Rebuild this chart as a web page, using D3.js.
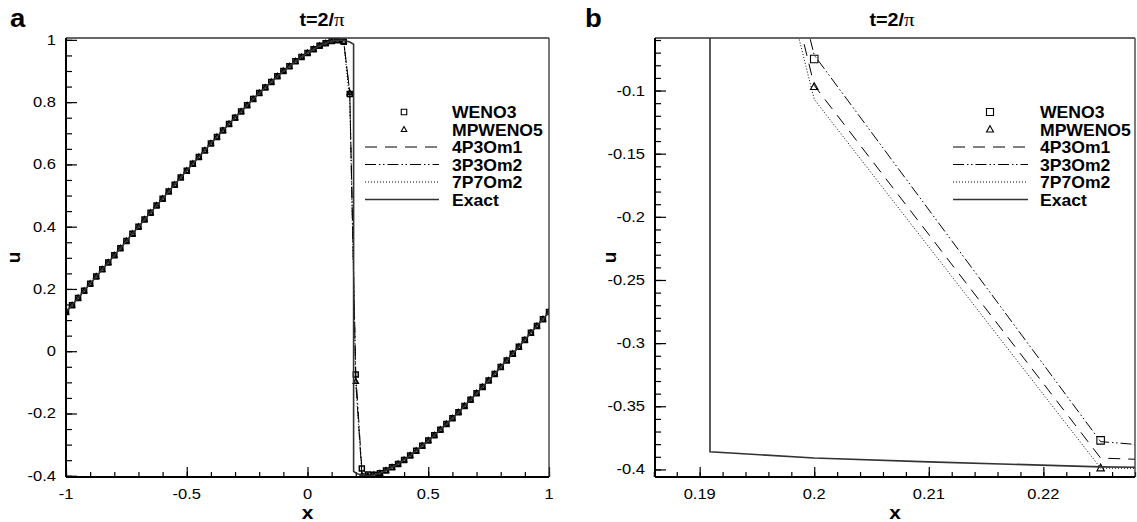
<!DOCTYPE html>
<html>
<head>
<meta charset="utf-8">
<script src="https://cdn.jsdelivr.net/npm/d3@7"></script>
<style>
body { margin: 0; background: #fff; }
text { font-family: "Liberation Sans", Arial, sans-serif; fill: #000; }
</style>
</head>
<body>
<svg id="chart" width="1137" height="522"></svg>
<script>
// grid nodes, dx = 0.025
var xGrid = [-1, -0.975, -0.95, -0.925, -0.9, -0.875, -0.85, -0.825, -0.8, -0.775,
  -0.75, -0.725, -0.7, -0.675, -0.65, -0.625, -0.6, -0.575, -0.55, -0.525,
  -0.5, -0.475, -0.45, -0.425, -0.4, -0.375, -0.35, -0.325, -0.3, -0.275,
  -0.25, -0.225, -0.2, -0.175, -0.15, -0.125, -0.1, -0.075, -0.05, -0.025,
  0, 0.025, 0.05, 0.075, 0.1, 0.125, 0.15, 0.175, 0.2, 0.225,
  0.25, 0.275, 0.3, 0.325, 0.35, 0.375, 0.4, 0.425, 0.45, 0.475,
  0.5, 0.525, 0.55, 0.575, 0.6, 0.625, 0.65, 0.675, 0.7, 0.725,
  0.75, 0.775, 0.8, 0.825, 0.85, 0.875, 0.9, 0.925, 0.95, 0.975, 1];

// u on the grid away from the shock (all schemes sit on the exact curve there)
var smoothU = [0.126, 0.148, 0.171, 0.194, 0.217, 0.240, 0.263, 0.285, 0.308, 0.331,
  0.354, 0.377, 0.400, 0.423, 0.445, 0.468, 0.490, 0.513, 0.535, 0.558,
  0.580, 0.602, 0.624, 0.645, 0.667, 0.688, 0.709, 0.730, 0.750, 0.770,
  0.790, 0.810, 0.829, 0.847, 0.865, 0.883, 0.900, 0.915, 0.931, 0.945,
  0.958, 0.970, 0.981, 0.989, 0.996, 0.999, 0.999, 0.993, -0.391, -0.398,
  -0.400, -0.397, -0.392, -0.383, -0.373, -0.362, -0.349, -0.335, -0.320, -0.304,
  -0.287, -0.270, -0.252, -0.234, -0.215, -0.196, -0.176, -0.156, -0.135, -0.115,
  -0.094, -0.073, -0.051, -0.030, -0.008, 0.014, 0.036, 0.059, 0.081, 0.103, 0.126];

// values at x = 0.15, 0.175, 0.2, 0.225, 0.25 (around the shock)
var nearStart = 46;
var weno3Near   = [0.994, 0.826, -0.075, -0.377, -0.396];
var mpweno5Near = [0.995, 0.830, -0.097, -0.399, -0.400];
var p4o3m1Near  = [0.995, 0.830, -0.096, -0.391, -0.399];
var p3o3m2Near  = [0.995, 0.832, -0.072, -0.378, -0.396];
var p7o7m2Near  = [0.995, 0.800, -0.107, -0.399, -0.400];

// extra exact points: the jump at x = 0.191
var exactShockX = [0.1909, 0.1909, 0.21];
var exactShockU = [0.986, -0.386, -0.394];

var legendNames = ["WENO3", "MPWENO5", "4P3Om1", "3P3Om2", "7P7Om2", "Exact"];

var leftXTicks = [-1, -0.5, 0, 0.5, 1];
var leftYTicks = [-0.4, -0.2, 0, 0.2, 0.4, 0.6, 0.8, 1];
var rightXTicks = [0.19, 0.2, 0.21, 0.22];
var rightYTicks = [-0.4, -0.35, -0.3, -0.25, -0.2, -0.15, -0.1];

var stretch = 1.1; // text in the figure looks a little wide

function seriesFrom(near) {
  var u = smoothU.slice();
  near.forEach(function(v, k) { u[nearStart + k] = v; });
  return xGrid.map(function(x, i) { return [x, u[i]]; });
}

var exactPts = xGrid.map(function(x, i) { return [x, smoothU[i]]; })
  .concat(exactShockX.map(function(x, i) { return [x, exactShockU[i]]; }));
// sort by x, the jump goes top -> bottom
exactPts.sort(function(a, b) {
  if (a[0] !== b[0]) return a[0] - b[0];
  return b[1] - a[1];
});

var series = [
  {name: "WENO3", pts: seriesFrom(weno3Near), marker: "square"},
  {name: "MPWENO5", pts: seriesFrom(mpweno5Near), marker: "triangle"},
  {name: "4P3Om1", pts: seriesFrom(p4o3m1Near), dash: "12,8", width: 1},
  {name: "3P3Om2", pts: seriesFrom(p3o3m2Near), dash: "11,3,1.5,2.5,1.5,3", width: 1},
  {name: "7P7Om2", pts: seriesFrom(p7o7m2Near), dash: "1,2", width: 1},
  {name: "Exact", pts: exactPts, dash: null, width: 1.6, color: "#333"}
];

var svg = d3.select("#chart");

function fmt(d) { return String(+d.toFixed(3)); }

function addText(g, x, y, str, anchor, size, weight) {
  return g.append("text")
    .attr("transform", "translate(" + x + "," + y + ") scale(" + stretch + ",1)")
    .attr("text-anchor", anchor)
    .attr("font-size", size)
    .attr("font-weight", weight || "normal")
    .text(str);
}

function markerPath(type, s) {
  if (type === "square") {
    return "M" + (-s/2) + "," + (-s/2) + "h" + s + "v" + s + "h" + (-s) + "Z";
  }
  var h = s * 0.9;
  return "M0," + (-h*0.6) + "L" + (s/2) + "," + (h*0.4) + "L" + (-s/2) + "," + (h*0.4) + "Z";
}

function drawPanel(cfg) {
  var b = cfg.box;
  var x = d3.scaleLinear().domain(cfg.xDomain).range([b.x0, b.x1]);
  var y = d3.scaleLinear().domain(cfg.yDomain).range([b.y1, b.y0]);
  var g = svg.append("g");

  g.append("clipPath").attr("id", "clip-" + cfg.tag)
    .append("rect")
    .attr("x", b.x0).attr("y", b.y0)
    .attr("width", b.x1 - b.x0).attr("height", b.y1 - b.y0);

  // minor then major ticks, pointing inside
  var axes = [
    [d3.axisBottom(x).tickValues(cfg.xMinor).tickSize(-5), "translate(0," + b.y1 + ")"],
    [d3.axisBottom(x).tickValues(cfg.xTicks).tickSize(-10), "translate(0," + b.y1 + ")"],
    [d3.axisLeft(y).tickValues(cfg.yMinor).tickSize(-6), "translate(" + b.x0 + ",0)"],
    [d3.axisLeft(y).tickValues(cfg.yTicks).tickSize(-11), "translate(" + b.x0 + ",0)"]
  ];
  axes.forEach(function(a) {
    var ag = g.append("g").attr("transform", a[1])
      .call(a[0].tickFormat("").tickSizeOuter(0));
    ag.select(".domain").remove();
    ag.selectAll("line").attr("stroke", "#000").attr("stroke-width", 1.2);
  });

  // tick labels
  cfg.xTicks.forEach(function(t) {
    addText(g, x(t), b.y1 + 22, fmt(t), "middle", 15);
  });
  cfg.yTicks.forEach(function(t) {
    addText(g, b.x0 - 10, y(t) + 5, fmt(t), "end", 15);
  });

  var plot = g.append("g").attr("clip-path", "url(#clip-" + cfg.tag + ")");
  var line = d3.line().x(function(d) { return x(d[0]); }).y(function(d) { return y(d[1]); });

  series.forEach(function(s) {
    if (s.marker) {
      plot.selectAll(null).data(s.pts).enter().append("path")
        .attr("transform", function(d) { return "translate(" + x(d[0]) + "," + y(d[1]) + ")"; })
        .attr("d", markerPath(s.marker, cfg.markerSize))
        .attr("fill", "none").attr("stroke", "#000").attr("stroke-width", cfg.markerStroke);
    } else {
      plot.append("path").datum(s.pts)
        .attr("d", line)
        .attr("fill", "none")
        .attr("stroke", s.color || "#000")
        .attr("stroke-width", s.width)
        .attr("stroke-dasharray", s.dash);
    }
  });

  // frame
  g.append("line").attr("x1", b.x0).attr("x2", b.x1).attr("y1", b.y0).attr("y2", b.y0)
    .attr("stroke", "#333").attr("stroke-width", 1.3);
  g.append("line").attr("x1", b.x1).attr("x2", b.x1).attr("y1", b.y0).attr("y2", b.y1)
    .attr("stroke", "#333").attr("stroke-width", 1.3);
  g.append("line").attr("x1", b.x0).attr("x2", b.x1).attr("y1", b.y1).attr("y2", b.y1)
    .attr("stroke", "#000").attr("stroke-width", 2);
  g.append("line").attr("x1", b.x0).attr("x2", b.x0).attr("y1", b.y0).attr("y2", b.y1)
    .attr("stroke", "#000").attr("stroke-width", 2);

  // legend
  var lg = cfg.legend;
  legendNames.forEach(function(name, i) {
    var s = series[i];
    var ly = lg.y + i * 17.5;
    if (s.marker) {
      g.append("path")
        .attr("transform", "translate(" + lg.mx + "," + ly + ")")
        .attr("d", markerPath(s.marker, lg.ms))
        .attr("fill", "none").attr("stroke", "#000").attr("stroke-width", 1.1);
    } else {
      g.append("line")
        .attr("x1", lg.l0).attr("x2", lg.l1).attr("y1", ly).attr("y2", ly)
        .attr("stroke", s.color || "#000")
        .attr("stroke-width", s.width)
        .attr("stroke-dasharray", s.dash);
    }
    addText(g, lg.tx, ly + 6, name, "start", 16, "bold");
  });

  // title, axis names, panel letter
  var title = g.append("text")
    .attr("transform", "translate(" + cfg.titleX + ",26) scale(" + stretch + ",1)")
    .attr("text-anchor", "middle")
    .attr("font-size", 18).attr("font-weight", "bold");
  title.append("tspan").text("t=2/");
  title.append("tspan").attr("font-family", "'Liberation Serif', 'DejaVu Serif', serif")
    .attr("font-weight", "normal").attr("font-size", 19).text("\u03c0");

  addText(g, (b.x0 + b.x1) / 2, 519, "x", "middle", 19, "bold");
  g.append("text")
    .attr("transform", "translate(" + cfg.uX + "," + ((b.y0 + b.y1) / 2) + ") rotate(-90)")
    .attr("text-anchor", "middle")
    .attr("font-size", 19).attr("font-weight", "bold")
    .text("u");
  addText(g, cfg.letterX, 27, cfg.letter, "start", 25, "bold");
}

drawPanel({
  tag: "a", letter: "a", letterX: 10,
  box: {x0: 66, x1: 549, y0: 38, y1: 477},
  xDomain: [-1, 1], yDomain: [-0.404, 1.006],
  xTicks: leftXTicks, yTicks: leftYTicks,
  xMinor: d3.range(-10, 11).map(function(k) { return k / 10; }),
  yMinor: d3.range(-8, 21).map(function(k) { return k / 20; }),
  markerSize: 5, markerStroke: 1.5,
  titleX: 322, uX: 20,
  legend: {y: 112, mx: 404, ms: 5.5, l0: 365, l1: 439, tx: 452}
});

drawPanel({
  tag: "b", letter: "b", letterX: 585,
  box: {x0: 655, x1: 1135, y0: 38, y1: 477},
  xDomain: [0.1861, 0.2280], yDomain: [-0.406, -0.0584],
  xTicks: rightXTicks, yTicks: rightYTicks,
  xMinor: d3.range(93, 115).map(function(k) { return k / 500; }),
  yMinor: d3.range(-40, -5).map(function(k) { return k / 100; }),
  markerSize: 7.5, markerStroke: 1.1,
  titleX: 892, uX: 616,
  legend: {y: 112, mx: 990, ms: 7, l0: 953, l1: 1028, tx: 1040}
});
</script>
</body>
</html>
